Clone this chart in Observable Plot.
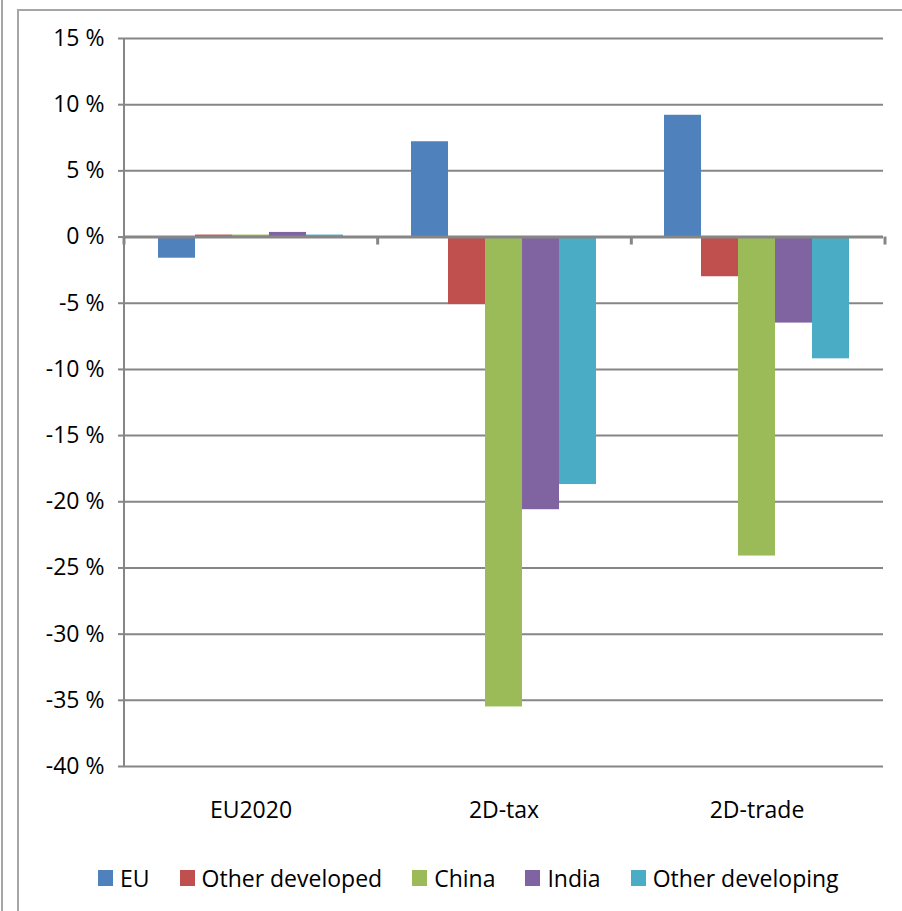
<!DOCTYPE html>
<html>
<head>
<meta charset="utf-8">
<script src="https://cdn.jsdelivr.net/npm/d3@7"></script>
<script src="https://cdn.jsdelivr.net/npm/@observablehq/plot@0.6"></script>
<style>
  html, body { margin: 0; padding: 0; background: #fff; }
  #wrap { position: relative; width: 902px; height: 911px; overflow: hidden; font-family: "Open Sans", sans-serif; }
  .edge-left { position: absolute; left: 1px; top: 0; width: 2px; height: 911px; background: #a6a6a6; }
  .box { position: absolute; left: 17px; top: 9px; width: 900px; height: 920px; border-left: 2px solid #a6a6a6; border-top: 2px solid #a6a6a6; box-sizing: border-box; }
  #chart { position: absolute; left: 0; top: 0; }
  #legend { position: absolute; left: 98px; top: 850px; height: 56px; display: flex; align-items: center; font-size: 23px; color: #000; white-space: nowrap; }
  #legend .item { display: flex; align-items: center; margin-right: 30px; }
  #legend .sw { width: 15px; height: 16px; margin-right: 7px; }
</style>
</head>
<body>
<div id="wrap">
  <div class="edge-left"></div>
  <div class="box"></div>
  <div id="chart"></div>
  <div id="legend"></div>
</div>
<script>
// Scenarios on the category axis and regions within each scenario
const scenarios = ["EU2020", "2D-tax", "2D-trade"];
const regions = ["EU", "Other developed", "China", "India", "Other developing"];
const colors = ["#4F81BD", "#C0504D", "#9BBB59", "#8064A2", "#4BACC6"];

// Percentage change per region, one value per scenario
const euValues = [-1.6, 7.2, 9.2];
const otherDevelopedValues = [0.15, -5.1, -3.0];
const chinaValues = [0.15, -35.5, -24.1];
const indiaValues = [0.35, -20.6, -6.5];
const otherDevelopingValues = [0.15, -18.7, -9.2];

const yTicks = [15, 10, 5, 0, -5, -10, -15, -20, -25, -30, -35, -40];

const seriesValues = [euValues, otherDevelopedValues, chinaValues, indiaValues, otherDevelopingValues];
const rows = [];
scenarios.forEach((s, i) => {
  regions.forEach((r, j) => rows.push({scenario: s, region: r, value: seriesValues[j][i]}));
});

const gridColor = "#868686";
const fontSize = 23;
const layout = {width: 902, height: 850, marginLeft: 123, marginRight: 18, marginTop: 38, marginBottom: 84};

// Vertical axis line and category boundary ticks on the zero line (drawn once, in the first facet)
let axisDrawn = false;
function axisLines(index, scales) {
  if (axisDrawn) return null;
  axisDrawn = true;
  const {width, height, marginLeft, marginRight, marginTop, marginBottom} = layout;
  const g = d3.create("svg:g").attr("stroke", gridColor);
  const y0 = scales.y(0);
  g.append("line")
    .attr("x1", marginLeft).attr("x2", marginLeft)
    .attr("y1", marginTop).attr("y2", height - marginBottom)
    .attr("stroke-width", 2);
  const step = (width - marginLeft - marginRight) / scenarios.length;
  d3.range(scenarios.length + 1).forEach(i => {
    const x = marginLeft + i * step;
    g.append("line")
      .attr("x1", x).attr("x2", x)
      .attr("y1", y0).attr("y2", y0 + 8)
      .attr("stroke-width", 3);
  });
  return g.node();
}

const chart = Plot.plot({
  ...layout,
  style: {fontFamily: "'Open Sans', sans-serif", color: "#000", background: "transparent", overflow: "visible"},
  fx: {domain: scenarios, padding: 0, label: null},
  x: {domain: regions, paddingInner: 0, paddingOuter: 0.84, axis: null},
  y: {domain: [-40, 15], label: null},
  color: {domain: regions, range: colors},
  facet: {data: rows, x: "scenario"},
  marks: [
    Plot.ruleY(yTicks.filter(d => d !== 0), {stroke: gridColor, strokeWidth: 2}),
    Plot.barY(rows, {x: "region", y: "value", fill: "region", inset: 0}),
    Plot.ruleY([0], {stroke: gridColor, strokeWidth: 3}),
    Plot.axisY({ticks: yTicks, tickFormat: d => `${d} %`, tickSize: 6, tickPadding: 14, stroke: gridColor, strokeWidth: 2, fill: "#000", fontSize, label: null}),
    Plot.axisFx({anchor: "bottom", tickSize: 0, tickPadding: 35, fontSize, fill: "#000", label: null}),
    axisLines
  ]
});
document.getElementById("chart").appendChild(chart);

// Legend below the chart
const legend = d3.select("#legend");
regions.forEach((r, i) => {
  const item = legend.append("div").attr("class", "item");
  item.append("div").attr("class", "sw").style("background", colors[i]);
  item.append("span").text(r);
});
</script>
</body>
</html>
